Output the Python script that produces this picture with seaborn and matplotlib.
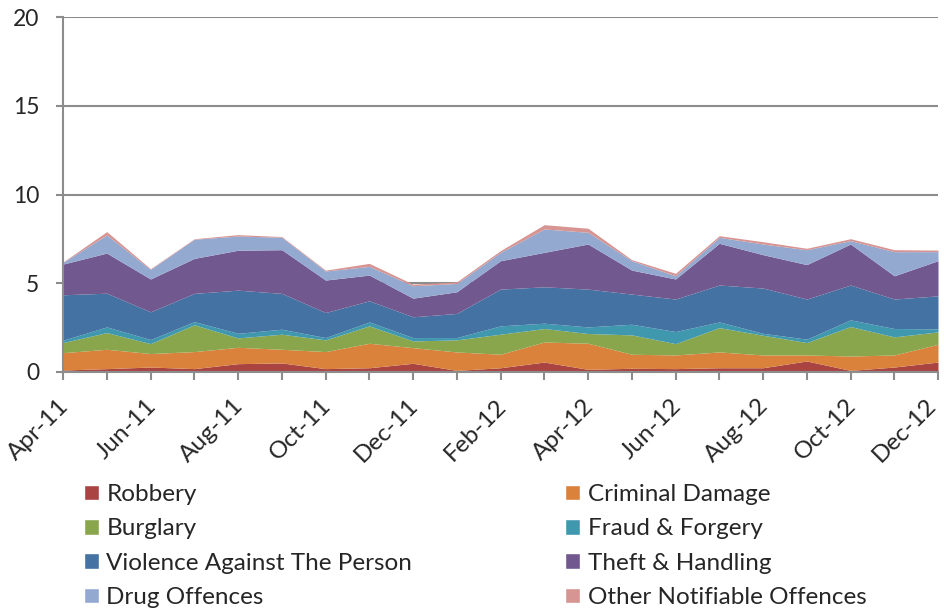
import seaborn as sns
import matplotlib
matplotlib.use("Agg")
import matplotlib.pyplot as plt
import matplotlib.transforms as mtransforms
from matplotlib.patches import Patch
import numpy as np

months = ["Apr-11", "May-11", "Jun-11", "Jul-11", "Aug-11", "Sep-11", "Oct-11",
          "Nov-11", "Dec-11", "Jan-12", "Feb-12", "Mar-12", "Apr-12", "May-12",
          "Jun-12", "Jul-12", "Aug-12", "Sep-12", "Oct-12", "Nov-12", "Dec-12"]

robbery = [0.11, 0.19, 0.28, 0.19, 0.47, 0.51, 0.19, 0.24, 0.49, 0.09, 0.24,
           0.56, 0.15, 0.21, 0.19, 0.24, 0.24, 0.62, 0.09, 0.28, 0.56]
criminal_damage = [0.98, 1.09, 0.76, 0.96, 0.92, 0.77, 0.96, 1.38, 0.88, 1.04, 0.76,
                   1.13, 1.47, 0.79, 0.77, 0.89, 0.72, 0.34, 0.81, 0.68, 1.00]
burglary = [0.57, 0.94, 0.56, 1.51, 0.53, 0.85, 0.66, 0.98, 0.38, 0.68, 1.13,
            0.76, 0.55, 1.09, 0.64, 1.37, 1.11, 0.70, 1.66, 1.02, 0.70]
fraud = [0.13, 0.32, 0.23, 0.18, 0.26, 0.28, 0.13, 0.22, 0.19, 0.13, 0.47,
         0.30, 0.37, 0.60, 0.68, 0.32, 0.11, 0.19, 0.38, 0.47, 0.17]
violence = [2.56, 1.90, 1.56, 1.59, 2.43, 2.02, 1.41, 1.19, 1.17, 1.36, 2.07,
            2.05, 2.13, 1.70, 1.83, 2.08, 2.55, 2.26, 1.96, 1.66, 1.86]
theft = [1.73, 2.26, 1.85, 1.97, 2.25, 2.46, 1.83, 1.45, 1.05, 1.22, 1.60,
         1.94, 2.54, 1.35, 1.13, 2.35, 1.88, 1.94, 2.31, 1.31, 1.98]
drug = [0.10, 1.02, 0.54, 1.08, 0.80, 0.70, 0.51, 0.49, 0.70, 0.47, 0.47,
        1.32, 0.66, 0.53, 0.18, 0.34, 0.60, 0.84, 0.19, 1.36, 0.51]
other = [0.02, 0.19, 0.04, 0.03, 0.08, 0.04, 0.05, 0.17, 0.09, 0.09, 0.10,
         0.24, 0.23, 0.06, 0.14, 0.09, 0.13, 0.08, 0.11, 0.11, 0.09]

labels = ["Robbery", "Criminal Damage", "Burglary", "Fraud & Forgery",
          "Violence Against The Person", "Theft & Handling", "Drug Offences",
          "Other Notifiable Offences"]
colors = ["#AA4442", "#DA823C", "#8AA64D", "#4098AF",
          "#4472A3", "#71588F", "#94A9D0", "#D69492"]

sns.set_style("white")
plt.rcParams['font.family'] = ['Lato', 'DejaVu Sans']

fig = plt.figure(figsize=(9.44, 6.09), dpi=100)
ax = fig.add_axes([63 / 944, 1 - 372 / 609, 875 / 944, 355 / 609])

x = np.arange(len(months))
ax.stackplot(x, robbery, criminal_damage, burglary, fraud, violence, theft, drug, other,
             colors=colors, linewidth=0, zorder=2)

ax.set_xlim(0, len(months) - 1)
ax.set_ylim(0, 20)
ax.set_yticks([0, 5, 10, 15, 20])
ax.yaxis.grid(True, color="#8c8c8c", linewidth=1.5, zorder=0)
ax.set_axisbelow(True)
for s in ["top", "right"]:
    ax.spines[s].set_visible(False)
for s in ["left", "bottom"]:
    ax.spines[s].set_color("#8c8c8c")
    ax.spines[s].set_linewidth(1.5)
    ax.spines[s].set_zorder(3)

ax.set_xticks(x)
ax.set_xticklabels([m if i % 2 == 0 else "" for i, m in enumerate(months)],
                   rotation=45, ha="right", va="center", rotation_mode="anchor")
ax.tick_params(axis="x", direction="out", length=5.8, width=1.5, color="#8c8c8c",
               labelsize=17.5, pad=16, bottom=True)
ax.tick_params(axis="y", direction="out", length=5, width=1.5, color="#8c8c8c",
               labelsize=16.5, left=True, pad=12)
# nudge the rotated month labels a little to the right (last one kept inside the figure)
xlabels = ax.get_xticklabels()
for i, lbl in enumerate(xlabels):
    dx = 2 if i < len(xlabels) - 1 else -5
    shift = mtransforms.ScaledTranslation(dx / 100, 0, fig.dpi_scale_trans)
    lbl.set_transform(lbl.get_transform() + shift)

order = [0, 2, 4, 6, 1, 3, 5, 7]
handles = [Patch(facecolor=colors[i], label=labels[i]) for i in order]
fig.legend(handles=handles, ncol=2, loc="upper left",
           bbox_to_anchor=(84 / 944, 1 - 484 / 609),
           frameon=False, fontsize=17.5, handlelength=0.62, handleheight=0.62,
           handletextpad=0.3, columnspacing=6.3, labelspacing=0.55,
           borderpad=0, borderaxespad=0)

fig.savefig("out.png", dpi=100)
